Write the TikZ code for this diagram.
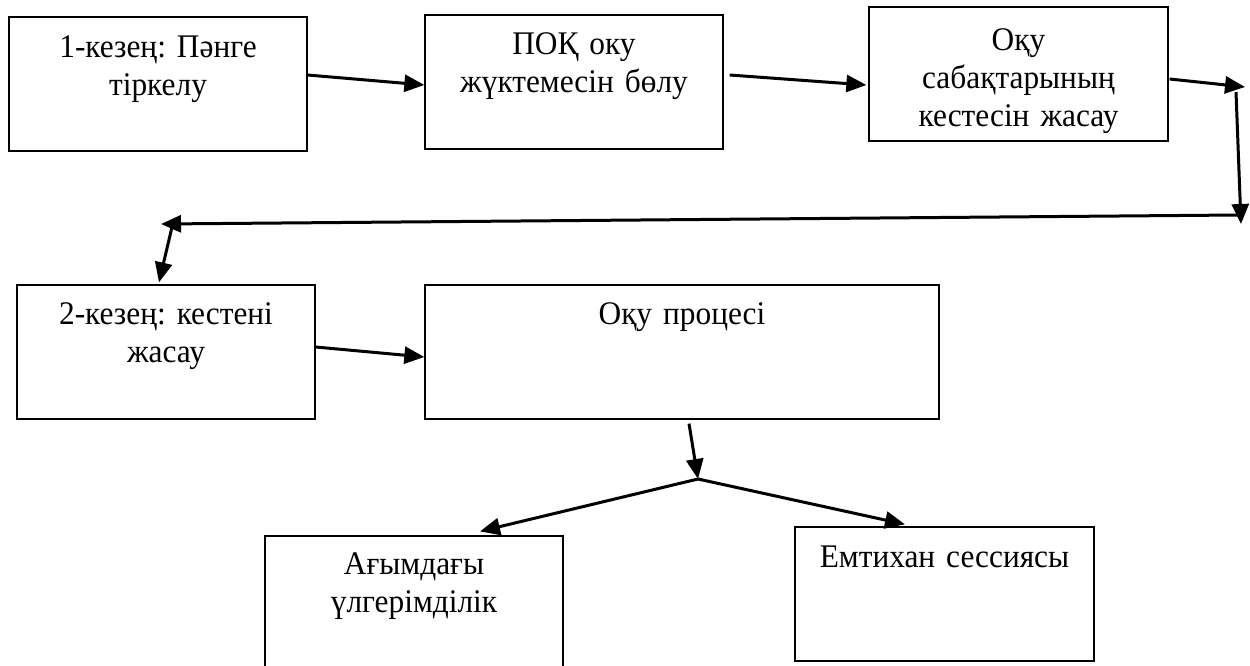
\documentclass[tikz,border=0pt]{standalone}
\usepackage{fontspec}
\setmainfont[FakeStretch=0.95]{Liberation Serif}
\usetikzlibrary{arrows.meta,calc}
\begin{document}
\frenchspacing
\begin{tikzpicture}[x=1pt,y=-1pt,
  box/.style={draw=black, line width=1.3pt, rectangle, inner sep=0pt, minimum height=134pt},
  lbl/.style={anchor=base, text width=290pt, align=center, inner sep=0pt, font=\fontsize{33}{38}\selectfont\frenchspacing},
  conn/.style={line width=3pt, -{Triangle[length=20pt,width=17pt]}}]
\useasboundingbox (0,0) rectangle (1250,665);
\clip (0,0) rectangle (1250,665);
\fill[white] (0,0) rectangle (1250,665);
% boxes
\node[box, minimum width=298pt] (b1) at (158,84) {};
\node[box, minimum width=298pt] (b2) at (574,82) {};
\node[box, minimum width=299pt] (b3) at (1018.5,74) {};
\node[box, minimum width=298pt] (b4) at (166,352) {};
\node[box, minimum width=514pt] (b5) at (682,352) {};
\node[box, minimum width=298pt] (b6) at (414,603) {};
\node[box, minimum width=299pt] (b7) at (944.5,594) {};
% texts
\node[lbl] (t1) at ($(b1.north)+(0,41)$) {1-кезең: Пәнге\\тіркелу};
\node[lbl] (t2) at ($(b2.north)+(0,40)$) {ПОҚ оку\\жүктемесін бөлу};
\node[lbl] (t3) at ($(b3.north)+(0,44)$) {Оқу\\сабақтарының\\кестесін жасау};
\node[lbl] (t4) at ($(b4.north)+(0,40)$) {2-кезең: кестені\\жасау};
\node[lbl] (t5) at ($(b5.north)+(0,40)$) {Оқу процесі};
\node[lbl] (t6) at ($(b6.north)+(0,39)$) {Ағымдағы\\үлгерімділік};
\node[lbl] (t7) at ($(b7.north)+(0,41)$) {Емтихан сессиясы};
% free coordinates
\coordinate (c1) at (1245,87);
\coordinate (v1) at (1236,92);
\coordinate (c2) at (1241,224);
\coordinate (h1) at (1238,215);
\coordinate (c3) at (161,224);
\coordinate (s1) at (172,227);
\coordinate (j) at (698,479);
% connectors
\draw[conn] ($(b1.east)+(0,-9)$) -- ($(b2.west)+(0,3)$);
\draw[conn] ($(b2.east)+(6,-7)$) -- ($(b3.west)+(-2,11)$);
\draw[conn] ($(b3.east)+(1,5)$) -- (c1);
\draw[conn] (v1) -- (c2);
\draw[conn] (h1) -- (c3);
\draw[conn] (s1) -- ($(b4.north)+(-7,-2)$);
\draw[conn] ($(b4.east)+(0,-5)$) -- ($(b5.west)+(0,5)$);
\draw[conn] ($(b5.south)+(7,4)$) -- (j);
\draw[conn] (j) -- ($(b6.north)+(66,-4)$);
\draw[conn] (j) -- ($(b7.north)+(-39.5,-2)$);
\end{tikzpicture}
\end{document}
